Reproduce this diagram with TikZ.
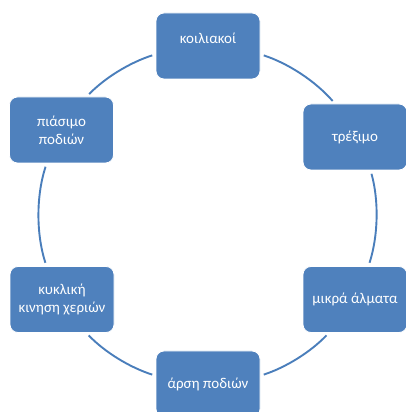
\documentclass[tikz,border=0pt]{standalone}
\usepackage{fontspec}
\setmainfont{Carlito}
\definecolor{boxblue}{HTML}{4F81BD}
\definecolor{lineblue}{HTML}{4A7EBB}
\begin{document}
\begin{tikzpicture}[x=1pt,y=1pt,
  box/.style={draw=white, line width=0.8pt, fill=boxblue, rounded corners=8pt,
    minimum width=104pt, minimum height=66pt, text=white,
    font=\fontsize{15}{18.3}\selectfont, align=center, inner sep=0pt},
  conn/.style={draw=lineblue, line width=1.9pt, looseness=0.85,
    shorten <=3.5pt, shorten >=3.5pt}]
\useasboundingbox (0,0) rectangle (406,412);
\clip (0,0) rectangle (406,412);
\node[box, text depth=15pt] (A) at (208,366) {κοιλιακοί};
\node[box] (B) at (355,275) {τρέξιμο};
\node[box] (C) at (355,112.5) {μικρά άλματα};
\node[box] (D) at (208,28) {άρση ποδιών};
\node[box] (E) at (62,112.5) {κυκλική\\κινηση χεριών};
\node[box] (F) at (61.5,282) {πιάσιμο\\ποδιών};
\draw[conn] (A.189) to[out=197.7,in=45.7] (F.53);
\draw[conn] (F.246) to[out=252.1,in=107.7] (E.115);
\draw[conn] (E.306) to[out=314,in=162.3] (D.171);
\draw[conn] (D.9) to[out=18.1,in=226] (C.232);
\draw[conn] (C.68) to[out=72.3,in=285.4] (B.295);
\draw[conn] (B.121) to[out=131.1,in=341.9] (A.351);
\end{tikzpicture}
\end{document}
